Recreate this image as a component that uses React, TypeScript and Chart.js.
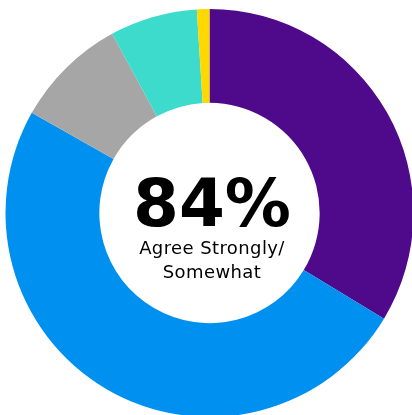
import React, { useEffect, useRef } from "react";
import { Chart, registerables } from "chart.js";

Chart.register(...registerables);

const categories = ["Strongly agree", "Somewhat agree", "Neutral", "Somewhat disagree", "Strongly disagree"];
const values = [34, 50, 9, 7, 1];
const colors = ["#4e0a8a", "#0091f0", "#a6a6a6", "#3ddbcb", "#ffd800"];
const centerValue = "84%";
const centerLabel = ["Agree Strongly/", "Somewhat"];

export default function App() {
  const ref = useRef<HTMLCanvasElement | null>(null);

  useEffect(() => {
    document.body.style.margin = "0";
    const chart = new Chart(ref.current as HTMLCanvasElement, {
      type: "doughnut",
      data: {
        labels: categories,
        datasets: [
          {
            data: values,
            backgroundColor: colors,
            borderWidth: 0,
          },
        ],
      },
      options: {
        responsive: false,
        animation: false,
        cutout: "54%",
        layout: { padding: { left: 5.5, right: 5.5, top: 9, bottom: 9 } },
        plugins: {
          legend: { display: false },
          tooltip: { enabled: false },
        },
      },
    });
    return () => chart.destroy();
  }, []);

  return (
    <div style={{ position: "relative", width: 412, height: 415, overflow: "hidden" }}>
      <canvas ref={ref} width={419} height={426} style={{ position: "absolute", left: 0, top: 0, width: 419, height: 426 }} />
      <div
        style={{
          position: "absolute",
          left: 112,
          width: 200,
          top: 171,
          textAlign: "center",
          fontFamily: "'DejaVu Sans', sans-serif",
          fontWeight: 700,
          fontSize: 66,
          lineHeight: "66px",
          color: "#000",
        }}
      >
        {centerValue}
      </div>
      <div
        style={{
          position: "absolute",
          left: 112,
          width: 200,
          top: 236,
          textAlign: "center",
          fontFamily: "'DejaVu Sans', sans-serif",
          fontWeight: 400,
          fontSize: 18,
          letterSpacing: 0.4,
          lineHeight: "24px",
          color: "#000",
        }}
      >
        {centerLabel.map((l, i) => (
          <div key={i}>{l}</div>
        ))}
      </div>
    </div>
  );
}
